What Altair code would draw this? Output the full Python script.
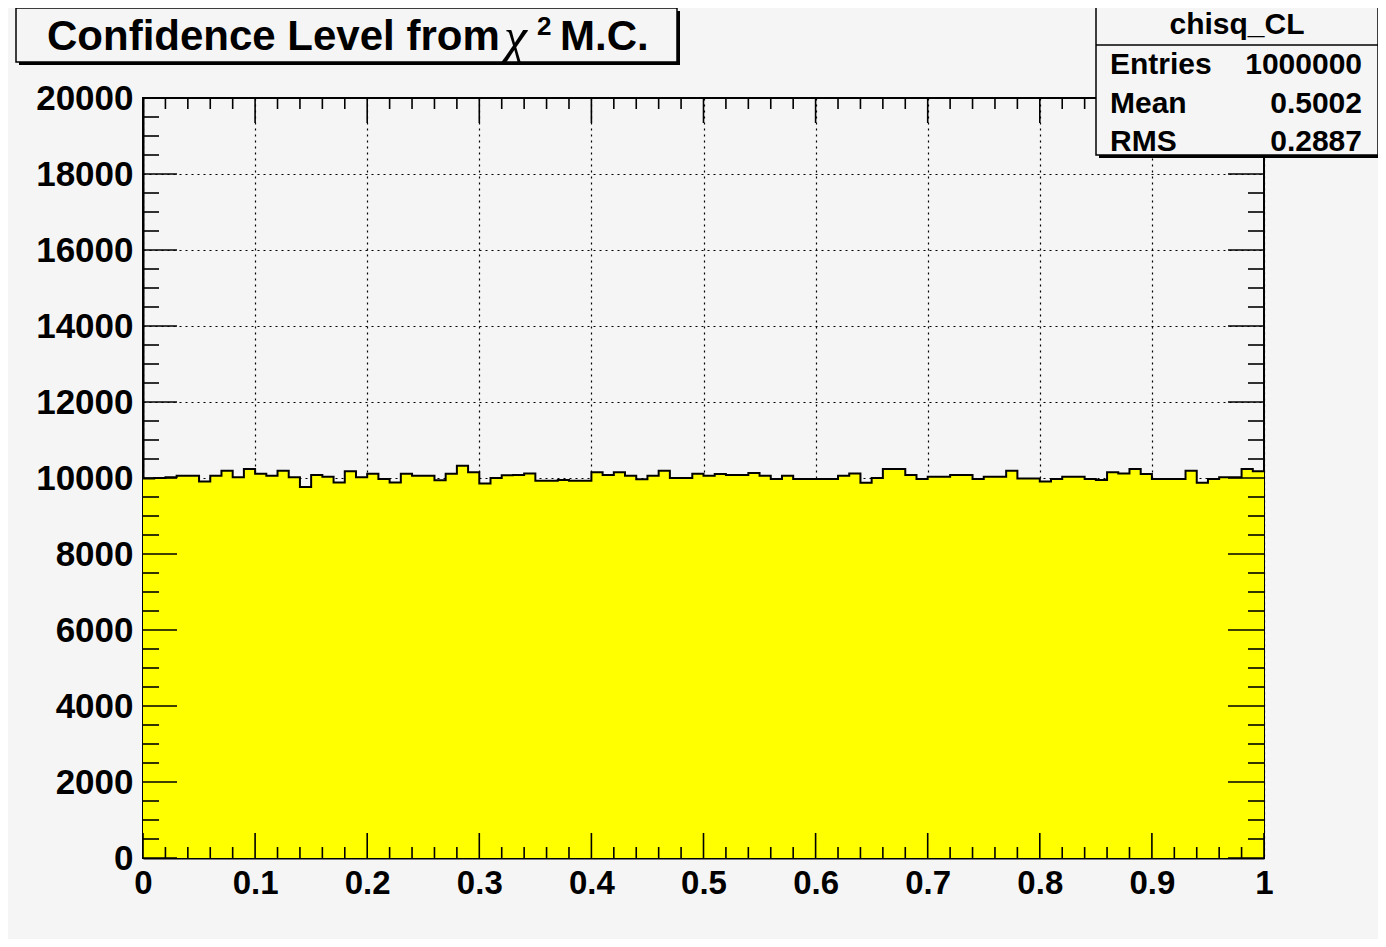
import altair as alt
import pandas as pd

# ---- data ----
bin_edges_lo = [i / 100 for i in range(100)]
counts = [
    9985, 10000, 10020, 10060, 10060, 9910, 10060, 10190, 10020, 10240,
    10110, 10060, 10190, 10020, 9760, 10080, 10030, 9880, 10175, 10020,
    10110, 9975, 9880, 10110, 10060, 10060, 9940, 10110, 10325, 10150,
    9855, 10000, 10070, 10080, 10120, 9930, 9930, 9950, 9930, 9930,
    10150, 10080, 10150, 10060, 9965, 10060, 10190, 10000, 10000, 10110,
    10060, 10106, 10080, 10080, 10130, 10060, 9975, 10060, 9975, 9975,
    9975, 9975, 10060, 10120, 9875, 10000, 10240, 10240, 10080, 9975,
    10030, 10030, 10080, 10080, 9975, 10030, 10030, 10190, 9990, 9990,
    9910, 9975, 10030, 10030, 9975, 9950, 10150, 10120, 10240, 10106,
    9975, 9975, 9975, 10190, 9875, 9975, 10020, 10020, 10240, 10175,
]
x_major = [round(i * 0.1, 1) for i in range(11)]
x_minor = [round(i * 0.02, 2) for i in range(51) if i % 5 != 0]
y_major = [i * 2000 for i in range(11)]
y_minor = [i * 500 for i in range(41) if i % 4 != 0]

title_main = "Confidence Level from"
title_chi = "χ"
title_sup = "2"
title_end = "M.C."
stats_name = "chisq_CL"
stats_labels = ["Entries", "Mean", "RMS"]
stats_values = ["1000000", "0.5002", "0.2887"]

# ---- layout ----
W, H = 1121, 760
BG = "#f5f5f5"
FONT = "Liberation Sans"

step = pd.DataFrame({
    "x": bin_edges_lo + [1.0],
    "y": counts + [counts[-1]],
    "zero": [0] * (len(counts) + 1),
})

xs = alt.Scale(domain=[0, 1], nice=False, zero=False)
ys = alt.Scale(domain=[0, 20000], nice=False, zero=False)

common_axis = dict(ticks=False, grid=True, gridDash=[2, 4], gridColor="black",
                   gridWidth=1.2, labelFlush=False, labelOverlap=False,
                   labelFont=FONT, labelFontWeight="bold",
                   labelColor="black", domainColor="black", domainWidth=2,
                   title=None)
x_axis = alt.Axis(values=x_major, format="~g", labelPadding=9, labelFontSize=33,
                  **common_axis)
y_axis = alt.Axis(values=y_major, format="d", labelPadding=10, labelFontSize=35,
                  **common_axis)

def X(field):
    return alt.X(field, scale=xs, axis=x_axis, title=None)

def Y(field):
    return alt.Y(field, scale=ys, axis=y_axis, title=None)

fill = alt.Chart(step).mark_area(interpolate="step-after", color="#ffff00").encode(
    x=X("x:Q"), y=Y("y:Q"), y2="zero:Q",
)

outline = alt.Chart(step).mark_line(interpolate="step-after", color="black",
                                     strokeWidth=2).encode(
    x=X("x:Q"), y=Y("y:Q"),
)

def xticks(vals, y0, y1):
    return alt.Chart(pd.DataFrame({"v": vals})).mark_rule(
        color="black", strokeWidth=1.6).encode(
        x=X("v:Q"), y=alt.value(y0), y2=alt.value(y1))

def yticks(vals, x0, x1):
    return alt.Chart(pd.DataFrame({"v": vals})).mark_rule(
        color="black", strokeWidth=1.6).encode(
        y=Y("v:Q"), x=alt.value(x0), x2=alt.value(x1))

ticks = [
    xticks(x_major, H, H - 25), xticks(x_minor, H, H - 11),
    xticks(x_major, 0, 25), xticks(x_minor, 0, 11),
    yticks(y_major, 0, 34), yticks(y_minor, 0, 16),
    yticks(y_major, W, W - 36), yticks(y_minor, W, W - 16),
]

one = alt.Data(values=[{"a": 1}])

def box(x0, x1, y0, y1, fillc, stroke=None, sw=0):
    kw = dict(fill=fillc)
    if stroke:
        kw.update(stroke=stroke, strokeWidth=sw)
    return alt.Chart(one).mark_rect(**kw).encode(
        x=alt.value(x0), x2=alt.value(x1), y=alt.value(y0), y2=alt.value(y1))

def label(txt, x, y, size, align="left", font=FONT, weight="bold", style="normal"):
    return alt.Chart(one).mark_text(
        text=txt, align=align, baseline="middle", fontSize=size, font=font,
        fontWeight=weight, fontStyle=style, color="black").encode(
        x=alt.value(x), y=alt.value(y))

# title box (canvas coords minus plot origin 143,98)
title_layers = [
    box(-124, 537, -87, -33, "black"),
    box(-127, 534, -90, -36, BG, "black", 1.5),
    label(title_main, -96, -61, 42),
    label(title_chi, 361, -60, 52, font="Liberation Serif", weight="normal", style="italic"),
    label(title_sup, 394, -71, 26),
    label(title_end, 417, -61, 42),
]

stats_layers = [
    box(956, 1238, -88, 60, "black"),
    box(953, 1235, -91, 57, BG, "black", 1.5),
    alt.Chart(one).mark_rule(color="black", strokeWidth=1.5).encode(
        x=alt.value(953), x2=alt.value(1235), y=alt.value(-53)),
    label(stats_name, 1094, -73, 30, align="center"),
]
for i, (lab, val) in enumerate(zip(stats_labels, stats_values)):
    yy = -33 + i * 38.5
    stats_layers.append(label(lab, 967, yy, 30))
    stats_layers.append(label(val, 1219, yy, 30, align="right"))

chart = alt.layer(fill, outline, *ticks, *title_layers, *stats_layers).properties(
    width=W, height=H,
    autosize=alt.AutoSizeParams(type="none"),
    padding={"left": 135, "top": 90, "right": 114, "bottom": 81},
    background=BG,
).configure_view(stroke="black", strokeWidth=2, fill=BG)

chart.save("out.html", embed_options={"renderer": "svg", "actions": False})
